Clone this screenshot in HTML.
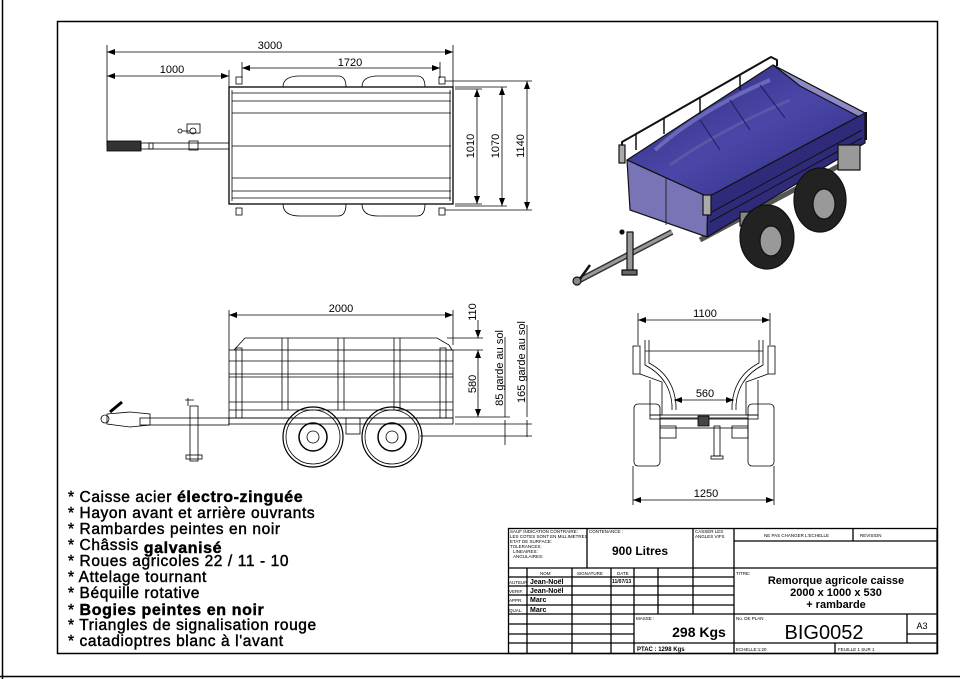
<!DOCTYPE html>
<html><head><meta charset="utf-8"><style>
html,body{margin:0;padding:0;background:#fff;}
svg{display:block;}
text{font-family:"Liberation Sans",sans-serif;}
</style></head><body>
<svg width="960" height="679" viewBox="0 0 960 679" xmlns="http://www.w3.org/2000/svg">
<defs>
<marker id="a" markerWidth="8" markerHeight="6" refX="8" refY="3" orient="auto-start-reverse" markerUnits="userSpaceOnUse"><path d="M0,0 L8,3 L0,6z" fill="#000"/></marker>
<linearGradient id="inn" x1="0" y1="0" x2="1" y2="1"><stop offset="0" stop-color="#2a267a"/><stop offset="0.5" stop-color="#4a47a8"/><stop offset="1" stop-color="#2c2980"/></linearGradient>
</defs>
<line x1="2.5" y1="0" x2="2.5" y2="679" stroke="#000" stroke-width="1.5"/>
<line x1="0" y1="676.5" x2="960" y2="676.5" stroke="#000" stroke-width="1.5"/>
<rect x="57.5" y="21.5" width="880" height="632" fill="none" stroke="#000" stroke-width="1.5"/>

<!-- TOP VIEW -->
<g stroke="#000" fill="none" stroke-width="0.8">
<line x1="107" y1="45" x2="107" y2="146"/>
<line x1="453" y1="45" x2="453" y2="88"/>
<line x1="229" y1="70" x2="229" y2="88"/>
<line x1="242" y1="62" x2="242" y2="78"/>
<line x1="440" y1="62" x2="440" y2="78"/>
<line x1="107" y1="52" x2="453" y2="52" marker-start="url(#a)" marker-end="url(#a)"/>
<line x1="107" y1="76" x2="229" y2="76" marker-start="url(#a)" marker-end="url(#a)"/>
<line x1="242" y1="68" x2="440" y2="68" marker-start="url(#a)" marker-end="url(#a)"/>
<line x1="455" y1="89" x2="482" y2="89"/><line x1="455" y1="204" x2="482" y2="204"/>
<line x1="455" y1="87" x2="507" y2="87"/><line x1="455" y1="206" x2="507" y2="206"/>
<line x1="445" y1="81" x2="532" y2="81"/><line x1="445" y1="210" x2="532" y2="210"/>
<line x1="477" y1="89" x2="477" y2="204" marker-start="url(#a)" marker-end="url(#a)"/>
<line x1="502" y1="87" x2="502" y2="206" marker-start="url(#a)" marker-end="url(#a)"/>
<line x1="527" y1="81" x2="527" y2="210" marker-start="url(#a)" marker-end="url(#a)"/>
<rect x="229" y="87" width="224" height="117" stroke-width="1.3"/>
<line x1="232" y1="93" x2="451" y2="93"/>
<line x1="232" y1="101" x2="451" y2="101"/>
<line x1="232" y1="113" x2="451" y2="113"/>
<line x1="232" y1="146" x2="451" y2="146"/>
<line x1="232" y1="178" x2="451" y2="178"/>
<line x1="232" y1="191" x2="451" y2="191"/>
<line x1="232" y1="198" x2="451" y2="198"/>
<line x1="232" y1="90" x2="232" y2="201"/><line x1="450" y1="90" x2="450" y2="201"/>
<path d="M283,87 Q283,76 300,76 L338,76 Q346,76 346,87"/>
<path d="M362,87 Q362,76 378,76 L417,76 Q425,76 425,87"/>
<path d="M283,204 Q283,216 300,216 L338,216 Q346,216 346,204"/>
<path d="M362,204 Q362,216 378,216 L417,216 Q425,216 425,204"/>
<rect x="236" y="77" width="6" height="7"/><rect x="439" y="77" width="6" height="7"/>
<rect x="236" y="208" width="6" height="7"/><rect x="439" y="208" width="6" height="7"/>
<rect x="149" y="143" width="80" height="6"/>
<rect x="107" y="141" width="34" height="10" fill="#333"/>
<rect x="141" y="143" width="12" height="6"/>
<rect x="187" y="124" width="13" height="9"/><circle cx="193" cy="131" r="3"/>
<rect x="189" y="141" width="9" height="9"/>
<circle cx="180" cy="131" r="2"/><line x1="182" y1="131" x2="190" y2="131"/>
</g>
<g font-size="11" text-anchor="middle">
<text x="270" y="49">3000</text>
<text x="172" y="73">1000</text>
<text x="350" y="66">1720</text>
<text transform="translate(474,146) rotate(-90)">1010</text>
<text transform="translate(499,146) rotate(-90)">1070</text>
<text transform="translate(524,146) rotate(-90)">1140</text>
</g>

<!-- SIDE VIEW -->
<g stroke="#000" fill="none" stroke-width="0.8">
<line x1="229" y1="310" x2="229" y2="350"/><line x1="453" y1="310" x2="453" y2="345"/>
<line x1="229" y1="315" x2="453" y2="315" marker-start="url(#a)" marker-end="url(#a)"/>
<line x1="447" y1="338" x2="483" y2="338"/><line x1="447" y1="350" x2="483" y2="350"/>
<line x1="455" y1="417" x2="510" y2="417"/><line x1="455" y1="424" x2="532" y2="424"/>
<line x1="420" y1="436" x2="532" y2="436"/>
<line x1="478" y1="320" x2="478" y2="338" marker-end="url(#a)"/>
<line x1="478" y1="350" x2="478" y2="417" marker-start="url(#a)" marker-end="url(#a)"/>
<line x1="505" y1="420" x2="505" y2="445"/><line x1="527" y1="420" x2="527" y2="437"/>
<line x1="505" y1="337" x2="505" y2="417"/><line x1="527" y1="325" x2="527" y2="417"/>
<path d="M234,350 L245,338 L437,338 L449,345 L452,350"/>
<rect x="229" y="350" width="224" height="68"/>
<line x1="229" y1="361" x2="453" y2="361"/>
<line x1="229" y1="374" x2="453" y2="374"/>
<line x1="229" y1="377" x2="453" y2="377"/>
<line x1="229" y1="402" x2="453" y2="402"/>
<line x1="229" y1="410" x2="453" y2="410"/>
<line x1="282" y1="338" x2="282" y2="410"/><line x1="288" y1="338" x2="288" y2="410"/>
<line x1="338" y1="338" x2="338" y2="410"/><line x1="344" y1="338" x2="344" y2="410"/>
<line x1="394" y1="338" x2="394" y2="410"/><line x1="400" y1="338" x2="400" y2="410"/>
<rect x="236" y="348" width="6" height="70"/><rect x="440" y="348" width="6" height="70"/>
<rect x="140" y="418" width="89" height="7"/>
<rect x="229" y="418" width="224" height="6"/>
<path d="M107,414 L130,412 L150,414 L150,425 L130,427 L107,424z"/>
<circle cx="105" cy="419" r="4"/>
<path d="M110,412 L122,402" stroke-width="3"/>
<rect x="190" y="406" width="8" height="55"/>
<rect x="186" y="455" width="16" height="4"/>
<path d="M188,406 L188,398 M185,400 L194,400"/>
<circle cx="313" cy="437" r="30" stroke-width="1.2"/><circle cx="313" cy="437" r="27"/>
<circle cx="313" cy="437" r="14" stroke-width="1.5"/><circle cx="313" cy="437" r="6"/>
<circle cx="392" cy="437" r="30" stroke-width="1.2"/><circle cx="392" cy="437" r="27"/>
<circle cx="392" cy="437" r="14" stroke-width="1.5"/><circle cx="392" cy="437" r="6"/>
<rect x="346" y="418" width="14" height="16"/>
</g>
<g font-size="11" text-anchor="middle">
<text x="341" y="312">2000</text>
<text transform="translate(476,312) rotate(-90)">110</text>
<text transform="translate(476,384) rotate(-90)">580</text>
<text transform="translate(503,368) rotate(-90)">85 garde au sol</text>
<text transform="translate(525,362) rotate(-90)">165 garde au sol</text>
</g>

<!-- FRONT VIEW -->
<g stroke="#000" fill="none" stroke-width="0.8">
<line x1="638" y1="313" x2="638" y2="345"/><line x1="770" y1="313" x2="770" y2="345"/>
<line x1="638" y1="320" x2="770" y2="320" marker-start="url(#a)" marker-end="url(#a)"/>
<line x1="633" y1="466" x2="633" y2="505"/><line x1="774" y1="466" x2="774" y2="505"/>
<line x1="633" y1="500" x2="774" y2="500" marker-start="url(#a)" marker-end="url(#a)"/>
<line x1="674" y1="400" x2="734" y2="400" marker-start="url(#a)" marker-end="url(#a)"/>
<rect x="634" y="404" width="26" height="62" rx="4"/>
<rect x="748" y="404" width="26" height="62" rx="4"/>
<rect x="633" y="346" width="7" height="28"/><rect x="768" y="346" width="7" height="28"/>
<line x1="645" y1="351" x2="763" y2="351"/>
<path d="M645,340 L645,365 Q670,378 672,405 L672,410"/>
<path d="M649,340 L649,363 Q674,376 676,405 L676,410"/>
<path d="M763,340 L763,365 Q738,378 736,405 L736,410"/>
<path d="M759,340 L759,363 Q734,376 732,405 L732,410"/>
<path d="M640,374 L662,382 L662,415 L650,415 L650,380"/>
<path d="M768,374 L746,382 L746,415 L758,415 L758,380"/>
<rect x="650" y="415" width="108" height="4"/>
<rect x="660" y="418" width="88" height="10"/>
<rect x="698" y="416" width="11" height="10" fill="#444"/>
<rect x="714" y="426" width="6" height="30"/><rect x="711" y="456" width="12" height="3"/>
<rect x="660" y="426" width="16" height="12"/><rect x="732" y="426" width="16" height="12"/>
</g>
<g font-size="11" text-anchor="middle">
<text x="705" y="317">1100</text>
<text x="705" y="397">560</text>
<text x="706" y="497">1250</text>
</g>

<!-- ISO VIEW -->
<g stroke="#111" stroke-width="1.2" stroke-linejoin="round">
<!-- tongue -->
<path d="M672,232 L578,281" fill="none" stroke="#333" stroke-width="6"/>
<path d="M672,232 L578,281" fill="none" stroke="#999" stroke-width="3"/>
<path d="M577,283 L590,265" fill="none" stroke-width="2.5"/>
<ellipse cx="577" cy="281" rx="4" ry="4" fill="#888"/>
<rect x="627" y="232" width="6" height="40" fill="#999"/>
<rect x="622" y="270" width="15" height="5" fill="#666"/>
<circle cx="622" cy="232" r="2" fill="#000"/>
<!-- chassis under box -->
<path d="M700,240 L850,160" fill="none" stroke="#555" stroke-width="5"/>
<!-- interior (inside faces) -->
<polygon points="627,160 773,65 865,113 708,197" fill="url(#inn)"/>
<path d="M655,150 Q700,110 770,80" fill="none" stroke="#6a68b8" stroke-width="4"/>
<path d="M670,165 Q720,130 790,100" fill="none" stroke="#5a57a8" stroke-width="3"/>
<path d="M700,120 L720,150 M730,100 L750,130 M760,85 L785,118" fill="none" stroke="#1e1b5a" stroke-width="1"/>
<!-- back wall inside -->
<polygon points="773,65 865,113 865,120 800,86 790,78" fill="#8c89c6"/>
<!-- front face -->
<polygon points="627,160 708,197 707,237 630,210" fill="#7874b6"/>
<line x1="666" y1="178" x2="666" y2="225" stroke-width="0.8"/>
<!-- right side face -->
<polygon points="708,197 865,113 865,143 707,237" fill="#2f2b7a"/>
<path d="M710,213 L862,130 M710,222 L862,138" fill="none" stroke="#111" stroke-width="1"/>
<!-- rails -->
<path d="M622,160 L622,142 L771,57 L777,60 L777,66" fill="none" stroke-width="2"/>
<path d="M636,150 L636,134 M664,134 L664,118 M700,114 L700,98 M740,90 L740,75" fill="none" stroke-width="1.5"/>
<path d="M866,112 L866,140" fill="none" stroke-width="2"/>
<rect x="619" y="145" width="6" height="18" fill="#aaa"/>
<rect x="703" y="195" width="8" height="20" fill="#aaa"/>
<rect x="838" y="145" width="22" height="25" fill="#999"/>
<!-- wheels -->
<ellipse cx="820" cy="200" rx="26" ry="32" fill="#222"/>
<ellipse cx="824" cy="204" rx="11" ry="15" fill="#999"/>
<rect x="740" y="212" width="12" height="14" fill="#888"/>
<ellipse cx="767" cy="237" rx="27" ry="32" fill="#222"/>
<ellipse cx="771" cy="241" rx="11" ry="15" fill="#999"/>
</g>

<!-- TEXT LIST -->
<g font-size="15.5" fill="#000" stroke="#000" stroke-width="0.45" letter-spacing="0.6">
<text x="68" y="502">* Caisse acier <tspan font-weight="bold" font-size="16">électro-zinguée</tspan></text>
<text x="68" y="518">* Hayon avant et arrière ouvrants</text>
<text x="68" y="534">* Rambardes peintes en noir</text>
<text x="68" y="550">* Châssis <tspan font-weight="bold" font-size="16" dy="3">galvanisé</tspan></text>
<text x="68" y="566">* Roues agricoles 22 / 11 - 10</text>
<text x="68" y="582">* Attelage tournant</text>
<text x="68" y="598">* Béquille rotative</text>
<text x="68" y="615">* <tspan font-weight="bold" font-size="16">Bogies peintes en noir</tspan></text>
<text x="68" y="630">* Triangles de signalisation rouge</text>
<text x="68" y="646">* catadioptres blanc à l'avant</text>
</g>

<!-- TITLE BLOCK -->
<g stroke="#000" fill="none" stroke-width="1.3">
<rect x="508.5" y="528.5" width="428.5" height="125"/>
<line x1="508" y1="568" x2="937" y2="568"/>
<line x1="587" y1="528" x2="587" y2="568"/>
<line x1="693" y1="528" x2="693" y2="614"/>
<line x1="734" y1="528" x2="734" y2="654"/>
<line x1="853" y1="528" x2="853" y2="541"/>
<line x1="734" y1="541" x2="937" y2="541"/>
<line x1="508" y1="577" x2="734" y2="577"/>
<line x1="508" y1="586" x2="734" y2="586"/>
<line x1="508" y1="595" x2="734" y2="595"/>
<line x1="508" y1="605" x2="734" y2="605"/>
<line x1="508" y1="614" x2="937" y2="614"/>
<line x1="508" y1="624" x2="634" y2="624"/>
<line x1="508" y1="634" x2="634" y2="634"/>
<line x1="508" y1="643" x2="937" y2="643"/>
<line x1="907" y1="614" x2="907" y2="643"/>
<line x1="907" y1="634" x2="937" y2="634"/>
<line x1="835" y1="643" x2="835" y2="654"/>
<line x1="527" y1="568" x2="527" y2="654"/>
<line x1="572" y1="568" x2="572" y2="654"/>
<line x1="611" y1="568" x2="611" y2="654"/>
<line x1="634" y1="568" x2="634" y2="654"/>
<line x1="658" y1="568" x2="658" y2="614"/>
</g>
<g font-size="4.5" fill="#000">
<text x="510" y="533">SAUF INDICATION CONTRAIRE:</text>
<text x="510" y="538">LES COTES SONT EN MILLIMETRES</text>
<text x="510" y="543">ETAT DE SURFACE:</text>
<text x="510" y="548">TOLERANCES:</text>
<text x="513" y="553">LINEAIRES:</text>
<text x="513" y="558">ANGULAIRES:</text>
<text x="589" y="533">CONTENANCE :</text>
<text x="695" y="533">CASSER LES</text>
<text x="695" y="538">ANGLES VIFS</text>
<text x="764" y="537">NE PAS CHANGER L'ECHELLE</text>
<text x="860" y="537">REVISION</text>
<text x="540" y="575">NOM</text>
<text x="577" y="575">SIGNATURE</text>
<text x="617" y="575">DATE</text>
<text x="509" y="584">AUTEUR</text>
<text x="509" y="593">VERIF.</text>
<text x="509" y="602">APPR.</text>
<text x="509" y="612">QUAL.</text>
<text x="736" y="575">TITRE:</text>
<text x="636" y="620">MASSE :</text>
<text x="736" y="620">No. DE PLAN</text>
<text x="736" y="651">ECHELLE:1:20</text>
<text x="838" y="651">FEUILLE 1 SUR 1</text>
</g>
<g font-weight="bold" fill="#000">
<text x="530" y="584" font-size="7">Jean-Noël</text>
<text x="530" y="593" font-size="7">Jean-Noël</text>
<text x="530" y="602" font-size="7">Marc</text>
<text x="530" y="612" font-size="7">Marc</text>
<text x="612" y="583" font-size="5">11/07/13</text>
<text x="640" y="555" font-size="12" text-anchor="middle">900 Litres</text>
<text x="699" y="637" font-size="14" text-anchor="middle">298 Kgs</text>
<text x="637" y="651" font-size="6">PTAC :  1298 Kgs</text>
<text x="836" y="584" font-size="11" text-anchor="middle">Remorque agricole caisse</text>
<text x="836" y="596" font-size="11" text-anchor="middle">2000 x 1000 x 530</text>
<text x="836" y="608" font-size="11" text-anchor="middle">+ rambarde</text>
</g>
<text x="824" y="639" font-size="20" text-anchor="middle">BIG0052</text>
<text x="922" y="629" font-size="9" text-anchor="middle">A3</text>
</svg>
</body></html>
